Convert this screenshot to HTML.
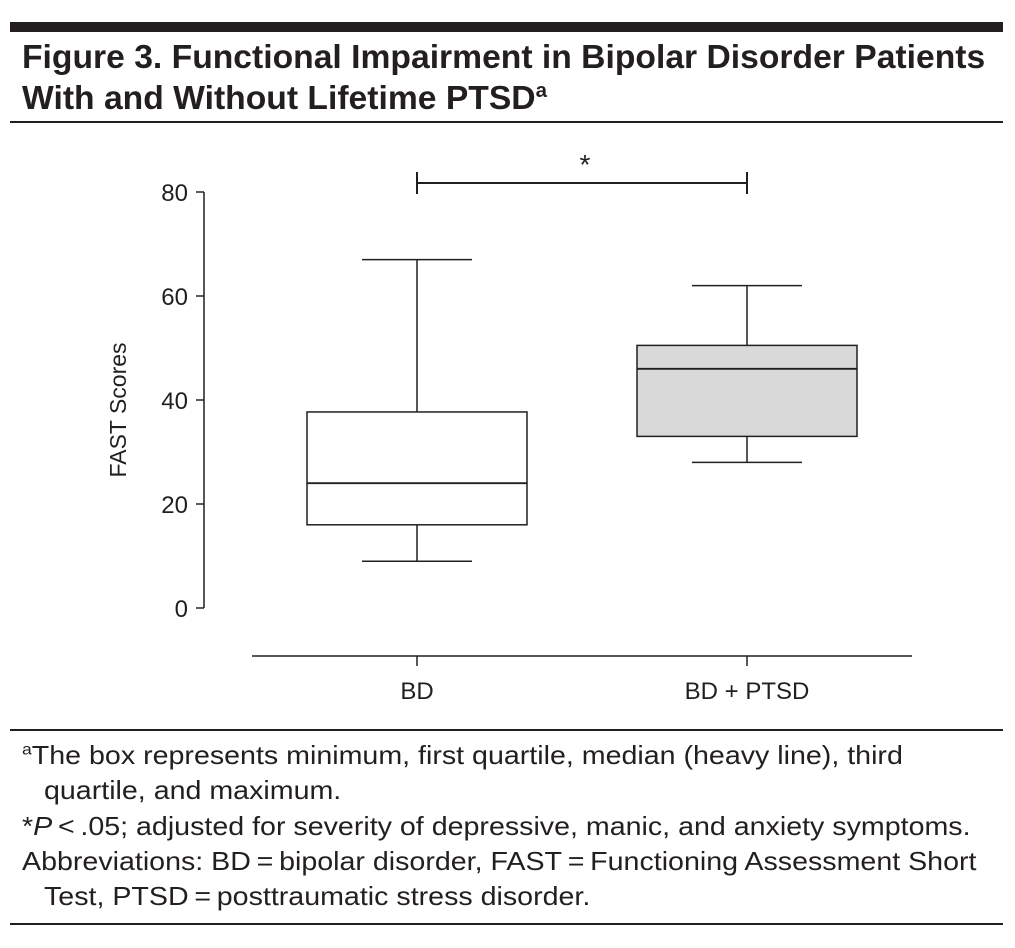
<!DOCTYPE html>
<html><head><meta charset="utf-8"><style>
body{margin:0;background:#fff;width:1015px;height:948px;overflow:hidden;font-family:"Liberation Sans",sans-serif;color:#231f20}
.t{position:absolute;left:22px;font-weight:bold;font-size:33px;white-space:nowrap;transform-origin:0 0;transform:scaleX(1.02)}
.f{position:absolute;left:22px;font-size:26px;white-space:nowrap;transform-origin:0 0;transform:scaleX(1.10)}
</style></head><body>
<div style="position:absolute;left:10px;top:22px;width:993px;height:10px;background:#231f20"></div>
<div class="t" style="top:38px">Figure 3. Functional Impairment in Bipolar Disorder Patients</div>
<div class="t" style="top:79px">With and Without Lifetime PTSD<sup style="font-size:20px">a</sup></div>
<div style="position:absolute;left:10px;top:121px;width:993px;height:2px;background:#231f20"></div>
<svg id="chart" width="1015" height="948" style="position:absolute;left:0;top:0" font-family="Liberation Sans, sans-serif"></svg>
<div style="position:absolute;left:10px;top:729px;width:993px;height:2px;background:#231f20"></div>
<div class="f" style="top:740px"><sup style="font-size:16px">a</sup>The box represents minimum, first quartile, median (heavy line), third</div>
<div class="f" style="top:775px;left:44px">quartile, and maximum.</div>
<div class="f" style="top:811px">*<i>P</i>&thinsp;&lt;&thinsp;.05; adjusted for severity of depressive, manic, and anxiety symptoms.</div>
<div class="f" style="top:846px">Abbreviations: BD&thinsp;=&thinsp;bipolar disorder, FAST&thinsp;=&thinsp;Functioning Assessment Short</div>
<div class="f" style="top:881px;left:44px">Test, PTSD&thinsp;=&thinsp;posttraumatic stress disorder.</div>
<div style="position:absolute;left:10px;top:923px;width:993px;height:2px;background:#231f20"></div>
<script>
const categories=["BD","BD + PTSD"];
const mins=[9,28];
const q1s=[16,33];
const medians=[24,46];
const q3s=[37.7,50.5];
const maxs=[67,62];
const fills=["#ffffff","#d9d9d9"];
const yTicks=[0,20,40,60,80];
const svg=document.getElementById('chart');
const NS='http://www.w3.org/2000/svg';
const y=v=>608-v*5.2;
const x=i=>417+i*330;
function el(t,a,p){const e=document.createElementNS(NS,t);for(const k in a)e.setAttribute(k,a[k]);(p||svg).appendChild(e);return e;}
const S='#231f20';
let ax=el('line',{x1:204,y1:y(0),x2:204,y2:y(80),stroke:S,'stroke-width':1.5});


yTicks.forEach(v=>{
 let t=el('line',{x1:196,x2:204,y1:y(v),y2:y(v),stroke:S,'stroke-width':1.5});
 
 
 let l=el('text',{x:188,y:y(v)+9,'text-anchor':'end','font-size':24,fill:S});
 l.textContent=v;
 
 
});
let yt=el('text',{transform:'translate(126,410) rotate(-90)','text-anchor':'middle','font-size':23,fill:S});
yt.textContent='FAST Scores';


let xa=el('line',{x1:252,x2:912,y1:656,y2:656,stroke:S,'stroke-width':1.5});


categories.forEach((c,i)=>{
 const cx=x(i);
 let t=el('line',{x1:cx,x2:cx,y1:656,y2:666,stroke:S,'stroke-width':1.5});
 
 
 let l=el('text',{x:cx,y:699,'text-anchor':'middle','font-size':24,fill:S});
 l.textContent=c;
 
 
 const g=el('g',{});
 
 
 el('line',{x1:cx,x2:cx,y1:y(maxs[i]),y2:y(q3s[i]),stroke:S,'stroke-width':1.5},g);
 el('line',{x1:cx,x2:cx,y1:y(q1s[i]),y2:y(mins[i]),stroke:S,'stroke-width':1.5},g);
 el('line',{x1:cx-55,x2:cx+55,y1:y(maxs[i]),y2:y(maxs[i]),stroke:S,'stroke-width':1.5},g);
 el('line',{x1:cx-55,x2:cx+55,y1:y(mins[i]),y2:y(mins[i]),stroke:S,'stroke-width':1.5},g);
 el('rect',{x:cx-110,y:y(q3s[i]),width:220,height:y(q1s[i])-y(q3s[i]),fill:fills[i],stroke:S,'stroke-width':1.5},g);
 el('line',{x1:cx-110,x2:cx+110,y1:y(medians[i]),y2:y(medians[i]),stroke:S,'stroke-width':1.8},g);
});
const b=el('g',{});


el('line',{x1:x(0),x2:x(1),y1:183,y2:183,stroke:S,'stroke-width':2},b);
el('line',{x1:x(0),x2:x(0),y1:172,y2:194,stroke:S,'stroke-width':2},b);
el('line',{x1:x(1),x2:x(1),y1:172,y2:194,stroke:S,'stroke-width':2},b);
let st=el('text',{x:585,y:174,'text-anchor':'middle','font-size':28,fill:S},b);
st.textContent='*';
</script>
</body></html>
